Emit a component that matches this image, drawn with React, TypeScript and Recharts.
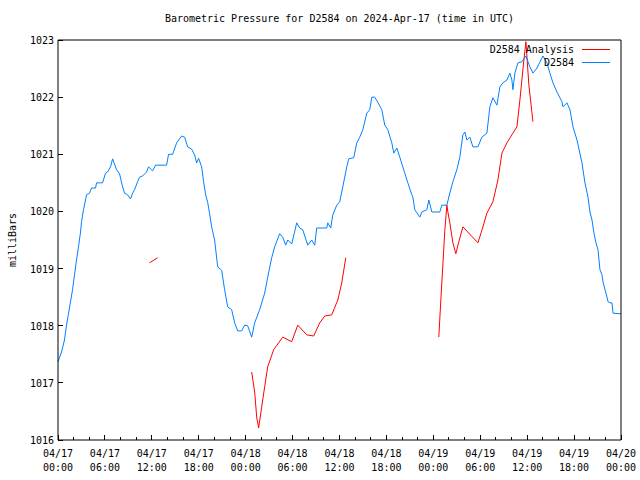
import React from 'react';
import { LineChart, Line, XAxis, YAxis } from 'recharts';

// hours since 04/17 00:00 UTC, pressure in millibars
const d2584: [number, number][] = [
  [0, 1017.37], [0.45, 1017.54], [0.83, 1017.75], [1.09, 1018.01], [1.47, 1018.31],
  [1.86, 1018.63], [2.11, 1018.89], [2.37, 1019.15], [2.62, 1019.38], [2.88, 1019.64],
  [3.01, 1019.82], [3.26, 1020.03], [3.52, 1020.2], [3.65, 1020.29], [4.03, 1020.32],
  [4.29, 1020.41], [4.8, 1020.41], [4.93, 1020.5], [5.7, 1020.5], [6.08, 1020.67],
  [6.34, 1020.69], [6.72, 1020.78], [6.98, 1020.92], [7.49, 1020.73], [7.87, 1020.66],
  [8.26, 1020.43], [8.51, 1020.32], [8.9, 1020.29], [9.28, 1020.22], [9.54, 1020.32],
  [9.79, 1020.38], [10.18, 1020.52], [10.43, 1020.6], [10.82, 1020.62], [11.33, 1020.69],
  [11.58, 1020.78], [12.1, 1020.71], [12.48, 1020.81], [13.89, 1020.81], [14.14, 1021.0],
  [14.66, 1021.0], [15.17, 1021.2], [15.81, 1021.32], [16.19, 1021.3], [16.58, 1021.13],
  [17.09, 1021.09], [17.47, 1020.99], [17.73, 1020.85], [17.98, 1020.93], [18.37, 1020.78],
  [18.62, 1020.52], [18.88, 1020.29], [19.14, 1020.16], [19.39, 1019.96], [19.65, 1019.73],
  [20.03, 1019.5], [20.42, 1019.03], [20.93, 1018.97], [21.31, 1018.63], [21.7, 1018.33],
  [22.21, 1018.28], [22.59, 1018.05], [22.98, 1017.91], [23.49, 1017.91], [23.87, 1018.01],
  [24.26, 1018.0], [24.77, 1017.8], [25.15, 1018.05], [25.79, 1018.28], [26.43, 1018.57],
  [26.82, 1018.85], [27.33, 1019.19], [27.71, 1019.38], [28.35, 1019.61], [28.74, 1019.55],
  [29.12, 1019.41], [29.38, 1019.5], [29.89, 1019.43], [30.53, 1019.8], [30.91, 1019.71],
  [31.3, 1019.68], [31.94, 1019.41], [32.45, 1019.5], [32.83, 1019.41], [33.09, 1019.71],
  [34.37, 1019.71], [34.5, 1019.8], [34.88, 1019.71], [35.14, 1019.94], [35.65, 1020.11],
  [36.03, 1020.17], [36.42, 1020.43], [36.93, 1020.78], [37.18, 1020.92], [37.82, 1020.94],
  [38.21, 1021.2], [38.59, 1021.3], [38.98, 1021.43], [39.49, 1021.72], [39.87, 1021.78],
  [40.13, 1022.0], [40.51, 1022.0], [40.9, 1021.91], [41.41, 1021.78], [41.79, 1021.51],
  [42.18, 1021.43], [42.69, 1021.2], [42.94, 1021.02], [43.33, 1021.11], [43.71, 1020.95],
  [44.35, 1020.67], [44.74, 1020.5], [45.25, 1020.29], [45.38, 1020.25], [45.63, 1020.03],
  [46.27, 1019.9], [46.53, 1019.99], [47.17, 1020.03], [47.42, 1020.2], [47.81, 1019.99],
  [48.83, 1019.99], [49.09, 1020.11], [49.73, 1020.11], [50.11, 1020.32], [50.5, 1020.52],
  [51.01, 1020.73], [51.39, 1020.95], [51.78, 1021.34], [52.03, 1021.39], [52.29, 1021.25],
  [52.67, 1021.3], [53.06, 1021.13], [53.7, 1021.13], [54.21, 1021.3], [54.85, 1021.37],
  [55.23, 1021.83], [55.62, 1021.99], [56.13, 1021.86], [56.51, 1022.18], [56.9, 1022.25],
  [57.41, 1022.3], [57.79, 1022.42], [58.05, 1022.3], [58.18, 1022.13], [58.43, 1022.42],
  [58.82, 1022.6], [59.33, 1022.62], [59.84, 1022.72], [60.35, 1022.53], [60.74, 1022.42],
  [61.25, 1022.51], [62.02, 1022.72], [62.53, 1022.6], [62.91, 1022.42], [63.3, 1022.25],
  [63.81, 1022.09], [64.45, 1021.92], [64.58, 1021.83], [65.09, 1021.9], [65.47, 1021.78],
  [65.86, 1021.48], [66.37, 1021.25], [67.01, 1020.85], [67.39, 1020.5], [67.78, 1020.25],
  [68.03, 1019.99], [68.29, 1019.85], [68.54, 1019.62], [68.8, 1019.45], [69.06, 1019.33],
  [69.31, 1018.98], [69.57, 1018.89], [69.7, 1018.77], [69.95, 1018.63], [70.21, 1018.5],
  [70.34, 1018.42], [70.59, 1018.4], [70.85, 1018.4], [70.98, 1018.22], [71.74, 1018.21],
  [72, 1018.21],
];

// analysis has gaps (null)
const d2584Analysis: [number, number | null][] = [
  [11.71, 1019.1], [12.74, 1019.19], [18, null],
  [24.77, 1017.19], [25.15, 1016.84], [25.41, 1016.4], [25.66, 1016.21], [26.05, 1016.58],
  [26.43, 1016.93], [26.82, 1017.28], [27.58, 1017.58], [28.74, 1017.8], [29.89, 1017.72],
  [30.66, 1018.01], [31.81, 1017.84], [32.7, 1017.82], [33.47, 1018.05], [34.11, 1018.17],
  [35.01, 1018.19], [35.78, 1018.45], [36.29, 1018.75], [36.8, 1019.19], [42, null],
  [48.7, 1017.8], [48.96, 1018.45], [49.47, 1019.67], [49.73, 1020.11], [49.86, 1019.99],
  [50.11, 1019.8], [50.5, 1019.45], [50.88, 1019.26], [51.26, 1019.47], [51.78, 1019.73],
  [53.7, 1019.45], [54.21, 1019.67], [54.85, 1019.97], [55.62, 1020.17], [56.26, 1020.55],
  [56.77, 1021.02], [57.41, 1021.2], [58.18, 1021.37], [58.69, 1021.48], [59.07, 1021.95],
  [59.58, 1022.65], [59.84, 1022.97], [60.22, 1022.21], [60.74, 1021.57],
];

const xTicks = [0, 2, 4, 6, 8, 10, 12, 14, 16, 18, 20, 22, 24, 26, 28, 30, 32, 34, 36,
  38, 40, 42, 44, 46, 48, 50, 52, 54, 56, 58, 60, 62, 64, 66, 68, 70, 72];
const xLabels: Record<number, [string, string]> = {
  0: ['04/17', '00:00'], 6: ['04/17', '06:00'], 12: ['04/17', '12:00'], 18: ['04/17', '18:00'],
  24: ['04/18', '00:00'], 30: ['04/18', '06:00'], 36: ['04/18', '12:00'], 42: ['04/18', '18:00'],
  48: ['04/19', '00:00'], 54: ['04/19', '06:00'], 60: ['04/19', '12:00'], 66: ['04/19', '18:00'],
  72: ['04/20', '00:00'],
};
const yTicks = [1016, 1017, 1018, 1019, 1020, 1021, 1022, 1023];

const blueData = d2584.map(([h, v]) => ({ h, v }));
const redData = d2584Analysis.map(([h, v]) => ({ h, v }));

const FONT = '"DejaVu Sans Mono", monospace';

const BottomTick = (props: any) => {
  const { x, y, payload } = props;
  const lbl = xLabels[payload.value];
  return (
    <g>
      <line x1={x} y1={y} x2={x} y2={y - (lbl ? 5 : 3)} stroke="#000" shapeRendering="crispEdges" />
      {lbl && (
        <text x={x} y={y} textAnchor="middle" fontFamily={FONT} fontSize={10} fill="#000">
          <tspan x={x} dy={17}>{lbl[0]}</tspan>
          <tspan x={x} dy={14}>{lbl[1]}</tspan>
        </text>
      )}
    </g>
  );
};

const TopTick = (props: any) => {
  const { x, y, payload } = props;
  const major = xLabels[payload.value] !== undefined;
  return <line x1={x} y1={y} x2={x} y2={y + (major ? 5 : 3)} stroke="#000" shapeRendering="crispEdges" />;
};

const LeftTick = (props: any) => {
  const { x, y, payload } = props;
  return (
    <g>
      <line x1={x} y1={y} x2={x + 5} y2={y} stroke="#000" shapeRendering="crispEdges" />
      <text x={x - 4} y={y + 4} textAnchor="end" fontFamily={FONT} fontSize={10} fill="#000">
        {payload.value}
      </text>
    </g>
  );
};

const RightTick = (props: any) => {
  const { x, y } = props;
  return <line x1={x} y1={y} x2={x - 5} y2={y} stroke="#000" shapeRendering="crispEdges" />;
};

const legendItems = [
  { name: 'D2584 Analysis', color: '#ff0000' },
  { name: 'D2584', color: '#0080ff' },
];

export default function App() {
  return (
    <div style={{ position: 'absolute', left: 0, top: 0, width: 640, height: 480, background: '#fff' }}>
      <div style={{ position: 'absolute', top: 13, left: 58, width: 563, textAlign: 'center', fontFamily: FONT, fontSize: 10 }}>
        Barometric Pressure for D2584 on 2024-Apr-17 (time in UTC)
      </div>
      <div
        style={{
          position: 'absolute', left: 12, top: 240, fontFamily: FONT, fontSize: 10,
          transform: 'translate(-50%, -50%) rotate(-90deg)', whiteSpace: 'nowrap',
        }}
      >
        milliBars
      </div>
      <LineChart width={640} height={480} margin={{ top: 0, right: 0, bottom: 0, left: 0 }}>
        <XAxis
          dataKey="h" type="number" domain={[0, 72]} ticks={xTicks} interval={0}
          height={40} tickSize={0} tickMargin={0} tickLine={false}
          axisLine={{ stroke: '#000' }} tick={<BottomTick />}
        />
        <XAxis
          xAxisId="top" orientation="top" dataKey="h" type="number" domain={[0, 72]}
          ticks={xTicks} interval={0} height={40} tickSize={0} tickMargin={0} tickLine={false}
          axisLine={{ stroke: '#000' }} tick={<TopTick />}
        />
        <YAxis
          type="number" domain={[1016, 1023]} ticks={yTicks} interval={0} width={58}
          tickSize={0} tickMargin={0} tickLine={false} axisLine={{ stroke: '#000' }}
          tick={<LeftTick />} allowDataOverflow
        />
        <YAxis
          yAxisId="right" orientation="right" type="number" domain={[1016, 1023]} ticks={yTicks}
          interval={0} width={19} tickSize={0} tickMargin={0} tickLine={false}
          axisLine={{ stroke: '#000' }} tick={<RightTick />}
        />
        <Line
          data={redData} dataKey="v" name="D2584 Analysis" type="linear" stroke="#ff0000"
          strokeWidth={1} dot={false} activeDot={false} connectNulls={false} isAnimationActive={false}
        />
        <Line
          data={blueData} dataKey="v" name="D2584" type="linear" stroke="#0080ff"
          strokeWidth={1} dot={false} activeDot={false} isAnimationActive={false}
        />
      </LineChart>
      <div style={{ position: 'absolute', top: 43, right: 30, fontFamily: FONT, fontSize: 10, color: '#000' }}>
        {legendItems.map((it) => (
          <div key={it.name} style={{ display: 'flex', alignItems: 'center', justifyContent: 'flex-end', height: 13 }}>
            <span>{it.name}</span>
            <span style={{ display: 'inline-block', width: 28, height: 0, borderTop: `1px solid ${it.color}`, marginLeft: 8 }} />
          </div>
        ))}
      </div>
    </div>
  );
}
